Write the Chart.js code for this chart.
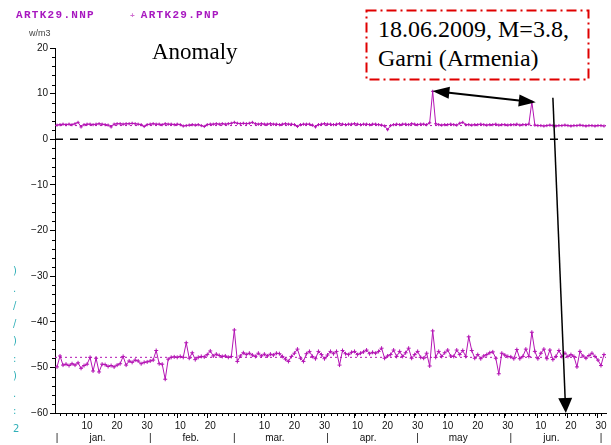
<!DOCTYPE html>
<html>
<head>
<meta charset="utf-8">
<script src="https://cdn.jsdelivr.net/npm/chart.js@4.4.1/dist/chart.umd.min.js"></script>
<style>
  html, body { margin: 0; padding: 0; background: #fff; }
  #wrap { position: relative; width: 611px; height: 445px; overflow: hidden; }
  #myChart { position: absolute; left: 0; top: 0; }
  .lbl { position: absolute; white-space: nowrap; }
  .legend { font: bold 11px "Liberation Mono", monospace; line-height: 11px; letter-spacing: 1.3px; color: #a818c0; }
  .legend .plus { font-size: 8px; color: #d070d0; letter-spacing: 0; margin-right: 6px; }
  .unit { font: 9px "Liberation Sans", sans-serif; line-height: 9px; color: #444; }
  .serif { font-family: "Liberation Serif", "Times New Roman", serif; color: #000; }
  .cyan { font: 10px "DejaVu Sans", sans-serif; line-height: 17.5px; color: #30b0b8; }
</style>
</head>
<body>
<div id="wrap">
  <canvas id="myChart" width="611" height="445"></canvas>
  <div class="lbl legend" style="left:16px; top:10px">ARTK29.NNP</div>
  <div class="lbl legend" style="left:130px; top:10px"><span class="plus">+</span>ARTK29.PNP</div>
  <div class="lbl unit" style="left:29px; top:29px">w/m3</div>
  <div class="lbl serif" style="left:152px; top:40px; font-size:23px; line-height:23px">Anomaly</div>
  <svg class="lbl" style="left:365px; top:9px" width="226" height="73">
    <rect x="1.5" y="1.5" width="222" height="69" fill="#fff" stroke="#e00000" stroke-width="2" stroke-dasharray="10 4 2 4"/>
  </svg>
  <div class="lbl serif" style="left:378px; top:15px; font-size:24px; line-height:29px">18.06.2009, M=3.8,<br>Garni (Armenia)</div>
  <div class="lbl cyan" style="left:13px; top:262px">)<br>.<br>/<br>/<br>)<br>:<br>)<br>.<br>:<br>2</div>
</div>
<script>
// Valori giornalieri dal 1 gennaio (indice 0) - serie superiore ARTK29.NNP
const nnpValues = [
  3.1, 3.2, 3.3, 3.2, 3.3, 3.2, 3.4, 3.7, 2.7, 3.2,
  3.3, 3.3, 3.2, 3.3, 3.4, 3.3, 3.2, 3.1, 2.7, 3.3,
  3.4, 3.4, 3.3, 3.4, 3.4, 3.5, 3.4, 3.3, 3.2, 2.8,
  3.2, 3.3, 3.4, 3.3, 3.3, 3.2, 3.4, 3.3, 3.3, 3.2,
  3.3, 3.2, 2.9, 3.0, 3.1, 3.2, 3.1, 3.2, 3.0, 2.8,
  3.2, 3.3, 3.3, 3.4, 3.3, 3.4, 3.3, 3.4, 3.5, 3.7,
  3.5, 3.4, 3.5, 3.4, 3.5, 3.7, 3.4, 3.3, 3.4, 3.3,
  3.3, 3.4, 3.3, 3.3, 3.2, 3.3, 3.4, 3.3, 3.3, 3.2,
  2.8, 3.2, 3.3, 3.3, 3.3, 3.1, 2.7, 3.2, 3.3, 3.4,
  3.3, 3.3, 3.2, 3.3, 3.4, 3.3, 3.2, 3.3, 3.3, 3.4,
  3.3, 3.2, 3.3, 3.3, 3.2, 3.3, 3.3, 3.2, 3.1, 2.9,
  2.1, 3.0, 3.2, 3.3, 3.2, 3.3, 3.3, 3.2, 3.4, 3.3,
  3.2, 3.3, 3.3, 3.2, 3.6, 10.5, 3.4, 3.2, 3.1, 3.2,
  3.2, 3.3, 3.2, 3.1, 3.5, 3.7, 3.2, 3.2, 3.1, 3.2,
  3.2, 3.3, 3.2, 3.1, 3.2, 3.2, 3.3, 3.1, 3.2, 3.2,
  3.1, 3.2, 3.2, 3.3, 3.1, 3.2, 3.2, 3.3, 8.2, 3.1,
  3.0, 3.0, 2.9, 3.0, 3.1, 3.0, 2.9, 3.0, 3.0, 3.1,
  3.0, 2.9, 3.0, 3.0, 3.1, 3.0, 2.9, 3.0, 3.0, 2.9,
  3.0, 3.0, 2.9
];

// Serie inferiore ARTK29.PNP
const pnpValues = [
  -49.9, -47.5, -49.5, -49.3, -49.6, -49.2, -49.5, -49.0, -50.2, -49.6,
  -49.3, -47.8, -50.8, -48.0, -51.0, -49.3, -49.4, -49.8, -49.6, -49.9,
  -49.5, -49.2, -47.6, -49.5, -48.6, -48.9, -48.4, -48.6, -49.2, -48.9,
  -48.8, -48.6, -48.4, -46.3, -49.2, -49.3, -52.6, -48.2, -47.8, -47.7,
  -47.8, -47.6, -47.8, -44.6, -48.0, -46.8, -48.3, -47.8, -47.6, -47.7,
  -47.2, -46.4, -47.5, -47.1, -47.4, -47.6, -47.5, -47.8, -47.6, -41.8,
  -48.7, -47.5, -46.8, -47.2, -46.9, -47.3, -47.6, -46.9, -47.5, -47.1,
  -47.5, -47.1, -47.3, -46.9, -47.0, -47.6, -48.2, -48.7, -47.6, -46.9,
  -46.0, -48.0, -48.7, -47.0, -46.5, -47.6, -48.1, -46.5, -47.2, -48.1,
  -47.3, -46.5, -47.0, -46.5, -49.5, -46.3, -47.0, -47.2, -46.7, -46.5,
  -47.2, -46.9, -46.6, -46.2, -47.0, -46.7, -46.9, -46.5, -45.8, -48.0,
  -47.5, -47.2, -46.2, -47.6, -46.5, -47.6, -46.8, -45.8, -48.0, -47.2,
  -46.5, -47.8, -48.0, -46.9, -49.7, -42.0, -47.8, -46.5, -47.6, -46.8,
  -46.2, -47.5, -47.6, -46.2, -47.2, -46.3, -47.6, -43.3, -46.3, -48.0,
  -47.2, -48.1, -47.5, -47.2, -46.8, -46.6, -48.0, -51.4, -46.9, -47.3,
  -47.6, -47.7, -48.1, -46.1, -48.1, -47.6, -46.0, -47.6, -42.3, -46.5,
  -48.1, -46.9, -46.0, -48.1, -46.2, -48.3, -47.6, -46.3, -47.6, -46.9,
  -47.6, -47.2, -47.6, -49.9, -46.5, -47.5, -48.0, -47.4, -46.9, -47.6,
  -48.4, -49.6, -47.2
];

// Livelli medi (linee punteggiate) e linea dello zero
const nnpLevel = 3.0;
const pnpLevel = -47.8;
const zeroLevel = 0;

// Asse dei tempi
const monthNames = ["jan.", "feb.", "mar.", "apr.", "may", "jun."];
const monthStarts = [0, 31, 59, 90, 120, 151, 181];
const dayLabels = ["10", "20", "30"];
const xMin = -0.67;
const xMax = 182.67;

// Asse verticale
const yMin = -60;
const yMax = 20;

// Frecce dell'annotazione (coordinate nei dati: giorno, valore)
const arrowBoth = { from: [124.9, 10.6], to: [159.3, 8.1] };
const arrowDown = { from: [165.0, 9.1], to: [169.3, -60] };

const magenta = "#b414b4";

// Tacche dei giorni 10, 20, 30 di ogni mese
const dayTicks = [];
for (let m = 0; m < monthNames.length; m++) {
  dayLabels.forEach(function (d) {
    const v = monthStarts[m] + Number(d) - 1;
    if (v < monthStarts[m + 1]) dayTicks.push({ value: v, label: d });
  });
}

// Separatori dei mesi e nomi dei mesi
const monthTicks = [];
for (let m = 0; m < monthStarts.length; m++) {
  monthTicks.push({ value: monthStarts[m], label: "|" });
  if (m < monthNames.length) monthTicks.push({ value: monthStarts[m] + 13.5, label: monthNames[m] });
}

function toPoints(values) {
  return values.map(function (v, i) { return { x: i, y: v }; });
}

function levelLine(level) {
  return [{ x: xMin, y: level }, { x: xMax, y: level }];
}

function drawHead(ctx, x1, y1, x2, y2, len, w) {
  const a = Math.atan2(y2 - y1, x2 - x1);
  ctx.beginPath();
  ctx.moveTo(x2, y2);
  ctx.lineTo(x2 - len * Math.cos(a) + (w / 2) * Math.sin(a), y2 - len * Math.sin(a) - (w / 2) * Math.cos(a));
  ctx.lineTo(x2 - len * Math.cos(a) - (w / 2) * Math.sin(a), y2 - len * Math.sin(a) + (w / 2) * Math.cos(a));
  ctx.closePath();
  ctx.fill();
}

// Plugin: tacche minori e frecce
const extrasPlugin = {
  id: "extras",
  afterDraw(chart) {
    const ctx = chart.ctx;
    const x = chart.scales.x;
    const y = chart.scales.y;
    const area = chart.chartArea;
    ctx.save();
    ctx.strokeStyle = "#000";
    ctx.lineWidth = 1;
    ctx.beginPath();
    for (let v = yMin; v <= yMax; v += 2) {
      if (v % 10 === 0) continue;
      const py = Math.round(y.getPixelForValue(v)) + 0.5;
      ctx.moveTo(area.left - 3, py);
      ctx.lineTo(area.left, py);
    }
    for (let d = 1; d < xMax; d += 2) {
      const px = Math.round(x.getPixelForValue(d)) + 0.5;
      ctx.moveTo(px, area.bottom);
      ctx.lineTo(px, area.bottom + 3);
    }
    ctx.stroke();

    // freccia doppia tra i due picchi
    ctx.fillStyle = "#000";
    ctx.lineWidth = 2;
    const ax1 = x.getPixelForValue(arrowBoth.from[0]), ay1 = y.getPixelForValue(arrowBoth.from[1]);
    const ax2 = x.getPixelForValue(arrowBoth.to[0]), ay2 = y.getPixelForValue(arrowBoth.to[1]);
    ctx.beginPath();
    ctx.moveTo(ax1 + 10, ay1 + 1);
    ctx.lineTo(ax2 - 10, ay2 - 1);
    ctx.stroke();
    drawHead(ctx, ax2, ay2, ax1, ay1, 17, 12);
    drawHead(ctx, ax1, ay1, ax2, ay2, 17, 12);

    // freccia verso la data del terremoto
    ctx.lineWidth = 1.5;
    const bx1 = x.getPixelForValue(arrowDown.from[0]), by1 = y.getPixelForValue(arrowDown.from[1]);
    const bx2 = x.getPixelForValue(arrowDown.to[0]), by2 = y.getPixelForValue(arrowDown.to[1]);
    ctx.beginPath();
    ctx.moveTo(bx1, by1);
    ctx.lineTo(bx2 - 0.5, by2 - 10);
    ctx.stroke();
    drawHead(ctx, bx1, by1, bx2, by2, 15, 14);
    ctx.restore();
  }
};

const tickFont = { family: "Liberation Sans", size: 10 };

new Chart(document.getElementById("myChart"), {
  type: "line",
  data: {
    datasets: [
      {
        label: "ARTK29.NNP level",
        data: levelLine(nnpLevel),
        borderColor: magenta,
        borderWidth: 1,
        borderDash: [2, 3],
        pointRadius: 0
      },
      {
        label: "ARTK29.NNP",
        data: toPoints(nnpValues),
        borderColor: magenta,
        borderWidth: 1,
        pointStyle: "cross",
        pointRadius: 1.6,
        pointBorderColor: magenta,
        pointBorderWidth: 1
      },
      {
        label: "ARTK29.PNP level",
        data: levelLine(pnpLevel),
        borderColor: magenta,
        borderWidth: 1,
        borderDash: [2, 3],
        pointRadius: 0
      },
      {
        label: "ARTK29.PNP",
        data: toPoints(pnpValues),
        borderColor: magenta,
        borderWidth: 1,
        pointStyle: "cross",
        pointRadius: 2,
        pointBorderColor: magenta,
        pointBorderWidth: 1
      },
      {
        label: "zero",
        data: levelLine(zeroLevel),
        borderColor: "#000",
        borderWidth: 1.3,
        borderDash: [8, 7],
        pointRadius: 0
      }
    ]
  },
  options: {
    responsive: false,
    animation: false,
    devicePixelRatio: 1,
    layout: { padding: { left: 0, right: 0, top: 48, bottom: 0 } },
    plugins: { legend: { display: false }, tooltip: { enabled: false } },
    elements: { line: { tension: 0 } },
    scales: {
      x: {
        type: "linear",
        position: "bottom",
        weight: 0,
        min: xMin,
        max: xMax,
        afterBuildTicks: function (scale) {
          scale.ticks = dayTicks.map(function (t) { return { value: t.value }; });
        },
        afterFit: function (scale) { scale.height = 17; },
        ticks: {
          autoSkip: false,
          maxRotation: 0,
          padding: 2,
          labelOffset: 3,
          color: "#111",
          font: tickFont,
          callback: function (v, i) { return dayTicks[i] ? dayTicks[i].label : ""; }
        },
        grid: { drawOnChartArea: false, tickLength: 5, color: "#000" },
        border: { color: "#000", width: 1 }
      },
      xm: {
        type: "linear",
        position: "bottom",
        weight: 1,
        min: xMin,
        max: xMax,
        afterBuildTicks: function (scale) {
          scale.ticks = monthTicks.map(function (t) { return { value: t.value }; });
        },
        afterFit: function (scale) { scale.height = 15; },
        ticks: {
          autoSkip: false,
          maxRotation: 0,
          padding: 2,
          color: "#111",
          font: tickFont,
          callback: function (v, i) { return monthTicks[i] ? monthTicks[i].label : ""; }
        },
        grid: { display: false, drawTicks: false },
        border: { display: false }
      },
      y: {
        position: "left",
        min: yMin,
        max: yMax,
        afterFit: function (scale) { scale.width = 55; },
        ticks: {
          stepSize: 10,
          padding: 2,
          color: "#111",
          font: tickFont,
          callback: function (v) { return v < 0 ? "\u2212" + Math.abs(v) : String(v); }
        },
        grid: { drawOnChartArea: false, tickLength: 5, color: "#000" },
        border: { color: "#000", width: 1 }
      }
    }
  },
  plugins: [extrasPlugin]
});
</script>
</body>
</html>
